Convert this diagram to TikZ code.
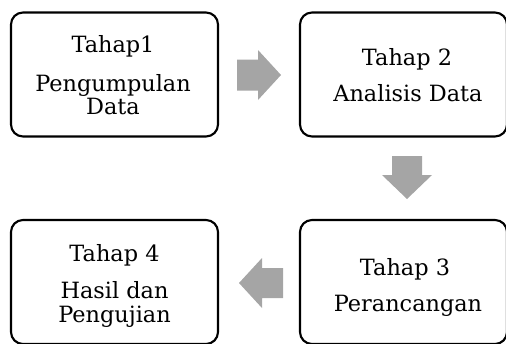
\documentclass[tikz,border=0pt]{standalone}
\usepackage{fontspec}
\setmainfont{DejaVu Serif}
\begin{document}
\begin{tikzpicture}[x=0.75pt,y=-0.75pt,
  stage/.style={draw=black,line width=1.6pt,rounded corners=9pt,minimum width=207*0.75pt,minimum height=124*0.75pt,inner sep=0pt},
  txt/.style={anchor=base,inner sep=0pt,font=\fontsize{16.8pt}{20pt}\selectfont},
  blockarrow/.style={fill=arrowgray,draw=none}]
\definecolor{arrowgray}{HTML}{A5A5A5}
\useasboundingbox (0,0) rectangle (506,343);
% boxes
\node[stage] (b1) at (114.5,74.5) {};
\node[stage] (b2) at (403.5,74.5) {};
\node[stage] (b3) at (403.5,282) {};
\node[stage] (b4) at (114.5,282) {};
% texts
\node[txt] (t1a) at (113,52.3) {Tahap1};
\node[txt] (t1b) at (113,91.7) {Pengumpulan};
\node[txt] (t1c) at (113,114.3) {Data};
\node[txt] (t2a) at (407,65) {Tahap 2};
\node[txt] (t2b) at (408,101.7) {Analisis Data};
\node[txt] (t3a) at (405,275) {Tahap 3};
\node[txt] (t3b) at (408,311.7) {Perancangan};
\node[txt] (t4a) at (114.5,261.7) {Tahap 4};
\node[txt] (t4b) at (114.5,298.3) {Hasil dan};
\node[txt] (t4c) at (114.5,322.3) {Pengujian};
% block arrows
\fill[blockarrow] (237,59.5) -- (258,59.5) -- (258,50) -- (281,75) -- (258,100) -- (258,90.5) -- (237,90.5) -- cycle;
\fill[blockarrow] (392,156) -- (422,156) -- (422,175) -- (432,175) -- (407,199) -- (382,175) -- (392,175) -- cycle;
\fill[blockarrow] (283,268) -- (262,268) -- (262,258) -- (239,283) -- (262,308) -- (262,298) -- (283,298) -- cycle;
\end{tikzpicture}
\end{document}
